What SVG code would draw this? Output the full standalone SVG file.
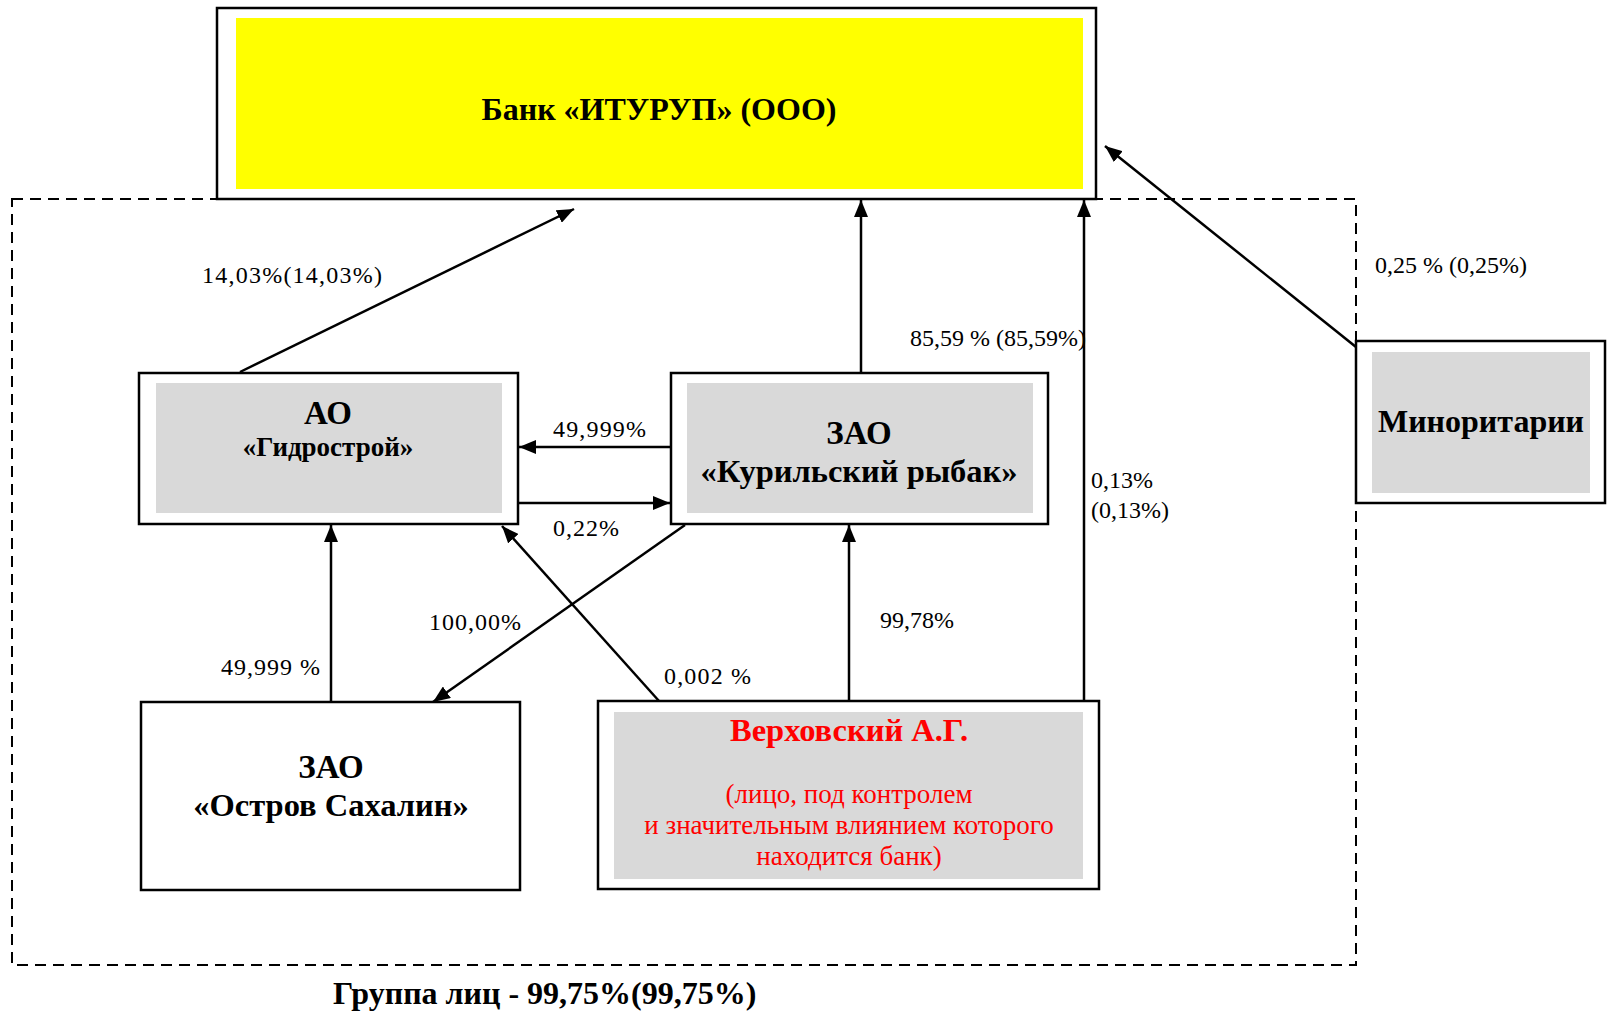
<svg xmlns="http://www.w3.org/2000/svg" width="1607" height="1013" viewBox="0 0 1607 1013">
<style>
text{font-family:"Liberation Serif","Times New Roman",serif;fill:#000}
.box{fill:#fff;stroke:#000;stroke-width:2.5}
.inner{fill:#d9d9d9;stroke:none}
.b{font-weight:bold}
.lbl{font-size:24px}
.red{fill:#ff0000}
.con line{stroke:#000;stroke-width:2.5;marker-end:url(#arr)}
.group{fill:none;stroke:#000;stroke-width:2;stroke-dasharray:11 7}
</style>
<defs>
<marker id="arr" markerUnits="userSpaceOnUse" markerWidth="18" markerHeight="14" refX="17" refY="7" orient="auto">
<path d="M0,0 L17,7 L0,14 z" fill="#000"/>
</marker>
</defs>
<rect width="1607" height="1013" fill="#fff"/>
<rect class="group" x="12" y="199" width="1344" height="766"/>

<g id="bank">
<rect class="box" x="217" y="8" width="879" height="191"/>
<rect x="236" y="18" width="847" height="171" fill="#ffff00"/>
<text class="b" x="659" y="120" font-size="32" text-anchor="middle">Банк «ИТУРУП» (ООО)</text>
</g>

<g id="minoritarii">
<rect class="box" x="1356" y="341" width="249" height="162"/>
<rect class="inner" x="1372" y="352" width="218" height="141"/>
<text class="b" x="1481" y="432" font-size="32" text-anchor="middle">Миноритарии</text>
</g>

<g id="gidrostroy">
<rect class="box" x="139" y="373" width="379" height="151"/>
<rect class="inner" x="156" y="383" width="346" height="130"/>
<text class="b" x="328" y="424" font-size="33" text-anchor="middle">АО</text>
<text class="b" x="328" y="456" font-size="27" text-anchor="middle">«Гидрострой»</text>
</g>

<g id="kurilskiy">
<rect class="box" x="671" y="373" width="377" height="151"/>
<rect class="inner" x="687" y="383" width="346" height="130"/>
<text class="b" x="859" y="444" font-size="33" text-anchor="middle">ЗАО</text>
<text class="b" x="859" y="482" font-size="32.5" text-anchor="middle">«Курильский рыбак»</text>
</g>

<g id="ostrov">
<rect class="box" x="141" y="702" width="379" height="188"/>
<text class="b" x="331" y="778" font-size="33" text-anchor="middle">ЗАО</text>
<text class="b" x="331" y="816" font-size="32.5" text-anchor="middle">«Остров Сахалин»</text>
</g>

<g id="verkhovsky">
<rect class="box" x="598" y="701" width="501" height="188"/>
<rect class="inner" x="614" y="712" width="469" height="167"/>
<text class="b red" x="849" y="741" font-size="32.5" text-anchor="middle">Верховский А.Г.</text>
<text class="red" x="849" y="803" font-size="27" text-anchor="middle">(лицо, под контролем</text>
<text class="red" x="849" y="834" font-size="27" text-anchor="middle">и значительным влиянием которого</text>
<text class="red" x="849" y="865" font-size="27" text-anchor="middle">находится банк)</text>
</g>

<g id="connectors" class="con">
<line x1="240" y1="372" x2="574" y2="209"/>
<line x1="861" y1="372" x2="861" y2="200"/>
<line x1="1084" y1="701" x2="1084" y2="200"/>
<line x1="1356" y1="347" x2="1105" y2="146"/>
<line x1="670" y1="447" x2="519" y2="447"/>
<line x1="518" y1="503" x2="670" y2="503"/>
<line x1="331" y1="702" x2="331" y2="525"/>
<line x1="685" y1="525" x2="433" y2="702"/>
<line x1="659" y1="701" x2="502" y2="526"/>
<line x1="849" y1="701" x2="849" y2="525"/>
</g>

<g id="labels" class="lbl">
<text x="202" y="283" textLength="180" lengthAdjust="spacing">14,03%(14,03%)</text>
<text x="910" y="346">85,59 % (85,59%)</text>
<text x="1375" y="273" textLength="152" lengthAdjust="spacing">0,25 % (0,25%)</text>
<text x="1091" y="488">0,13%</text>
<text x="1091" y="518">(0,13%)</text>
<text x="553" y="437" textLength="93" lengthAdjust="spacing">49,999%</text>
<text x="553" y="536" textLength="66" lengthAdjust="spacing">0,22%</text>
<text x="429" y="630" textLength="92" lengthAdjust="spacing">100,00%</text>
<text x="221" y="675" textLength="99" lengthAdjust="spacing">49,999 %</text>
<text x="664" y="684" textLength="87" lengthAdjust="spacing">0,002 %</text>
<text x="880" y="628">99,78%</text>
</g>

<text class="b" x="333" y="1004" font-size="32">Группа лиц - 99,75%(99,75%)</text>
</svg>
